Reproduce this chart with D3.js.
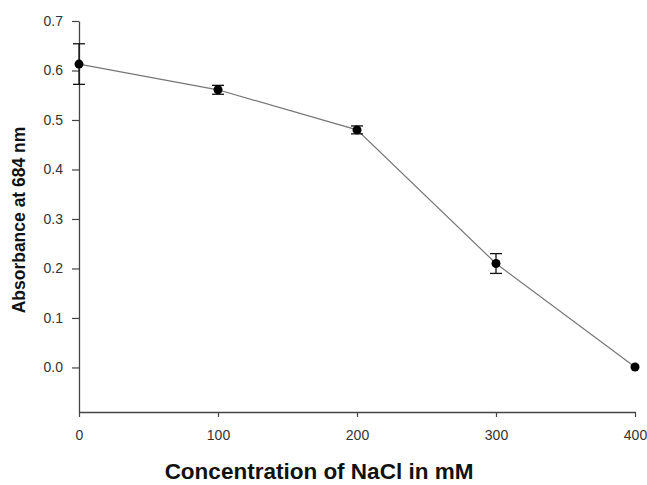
<!DOCTYPE html>
<html>
<head>
<meta charset="utf-8">
<script src="https://cdn.jsdelivr.net/npm/d3@7"></script>
<style>
  body { margin: 0; background: #fff; }
  svg { display: block; }
</style>
</head>
<body>
<div id="chart"></div>
<script>
const concentrations = [0, 100, 200, 300, 400];
const absorbance = [0.613, 0.561, 0.480, 0.210, 0.001];
const errors = [0.041, 0.009, 0.008, 0.02, 0];
const xTicks = [0, 100, 200, 300, 400];
const yTicks = [0.0, 0.1, 0.2, 0.3, 0.4, 0.5, 0.6, 0.7];

const width = 647;
const height = 485;
const font = 'Liberation Sans, Arial, sans-serif';

const svg = d3
  .select('#chart')
  .append('svg')
  .attr('width', width)
  .attr('height', height);

const xScale = d3.scaleLinear().domain([0, 400]).range([79, 635]);
const yScale = d3.scaleLinear().domain([-0.09, 0.7]).range([412, 21]);

// axes
const xAxis = svg
  .append('g')
  .attr('transform', `translate(0, ${yScale(-0.09)})`)
  .call(d3.axisBottom(xScale).tickValues(xTicks).tickSize(5).tickPadding(13).tickSizeOuter(0));

const yAxis = svg
  .append('g')
  .attr('transform', `translate(${xScale(0)}, 0)`)
  .call(
    d3.axisLeft(yScale)
      .tickValues(yTicks)
      .tickFormat(d3.format('.1f'))
      .tickSize(7)
      .tickPadding(9)
      .tickSizeOuter(0)
  );

[xAxis, yAxis].forEach((g) => {
  g.select('.domain').attr('stroke', '#444').attr('stroke-width', 1.3);
  g.selectAll('.tick line').attr('stroke', '#444').attr('stroke-width', 1.2);
  g.selectAll('.tick text')
    .attr('fill', '#333')
    .style('font-family', font)
    .style('font-size', '14px');
});

// axis titles
svg
  .append('text')
  .attr('x', 319)
  .attr('y', 479)
  .attr('text-anchor', 'middle')
  .style('font-family', font)
  .style('font-weight', 'bold')
  .style('font-size', '22.5px')
  .attr('fill', '#111')
  .text('Concentration of NaCl in mM');

svg
  .append('text')
  .attr('transform', 'translate(25, 220) rotate(-90)')
  .attr('text-anchor', 'middle')
  .style('font-family', font)
  .style('font-weight', 'bold')
  .style('font-size', '17.5px')
  .attr('fill', '#111')
  .text('Absorbance at 684 nm');

const data = concentrations.map((c, i) => ({
  x: c,
  y: absorbance[i],
  err: errors[i]
}));

// connecting line
const line = d3
  .line()
  .x((d) => xScale(d.x))
  .y((d) => yScale(d.y));

svg
  .append('path')
  .datum(data)
  .attr('d', line)
  .attr('fill', 'none')
  .attr('stroke', '#777')
  .attr('stroke-width', 1.2);

// error bars
const capHalf = 6;
const errG = svg.append('g').attr('stroke', '#111').attr('stroke-width', 1.3);

data
  .filter((d) => d.err > 0)
  .forEach((d) => {
    const cx = xScale(d.x);
    errG
      .append('line')
      .attr('x1', cx)
      .attr('x2', cx)
      .attr('y1', yScale(d.y - d.err))
      .attr('y2', yScale(d.y + d.err));
    [d.y - d.err, d.y + d.err].forEach((v) => {
      errG
        .append('line')
        .attr('x1', cx - capHalf)
        .attr('x2', cx + capHalf)
        .attr('y1', yScale(v))
        .attr('y2', yScale(v));
    });
  });

// markers
svg
  .selectAll('circle')
  .data(data)
  .enter()
  .append('circle')
  .attr('cx', (d) => xScale(d.x))
  .attr('cy', (d) => yScale(d.y))
  .attr('r', 4.5)
  .attr('fill', '#000');
</script>
</body>
</html>
